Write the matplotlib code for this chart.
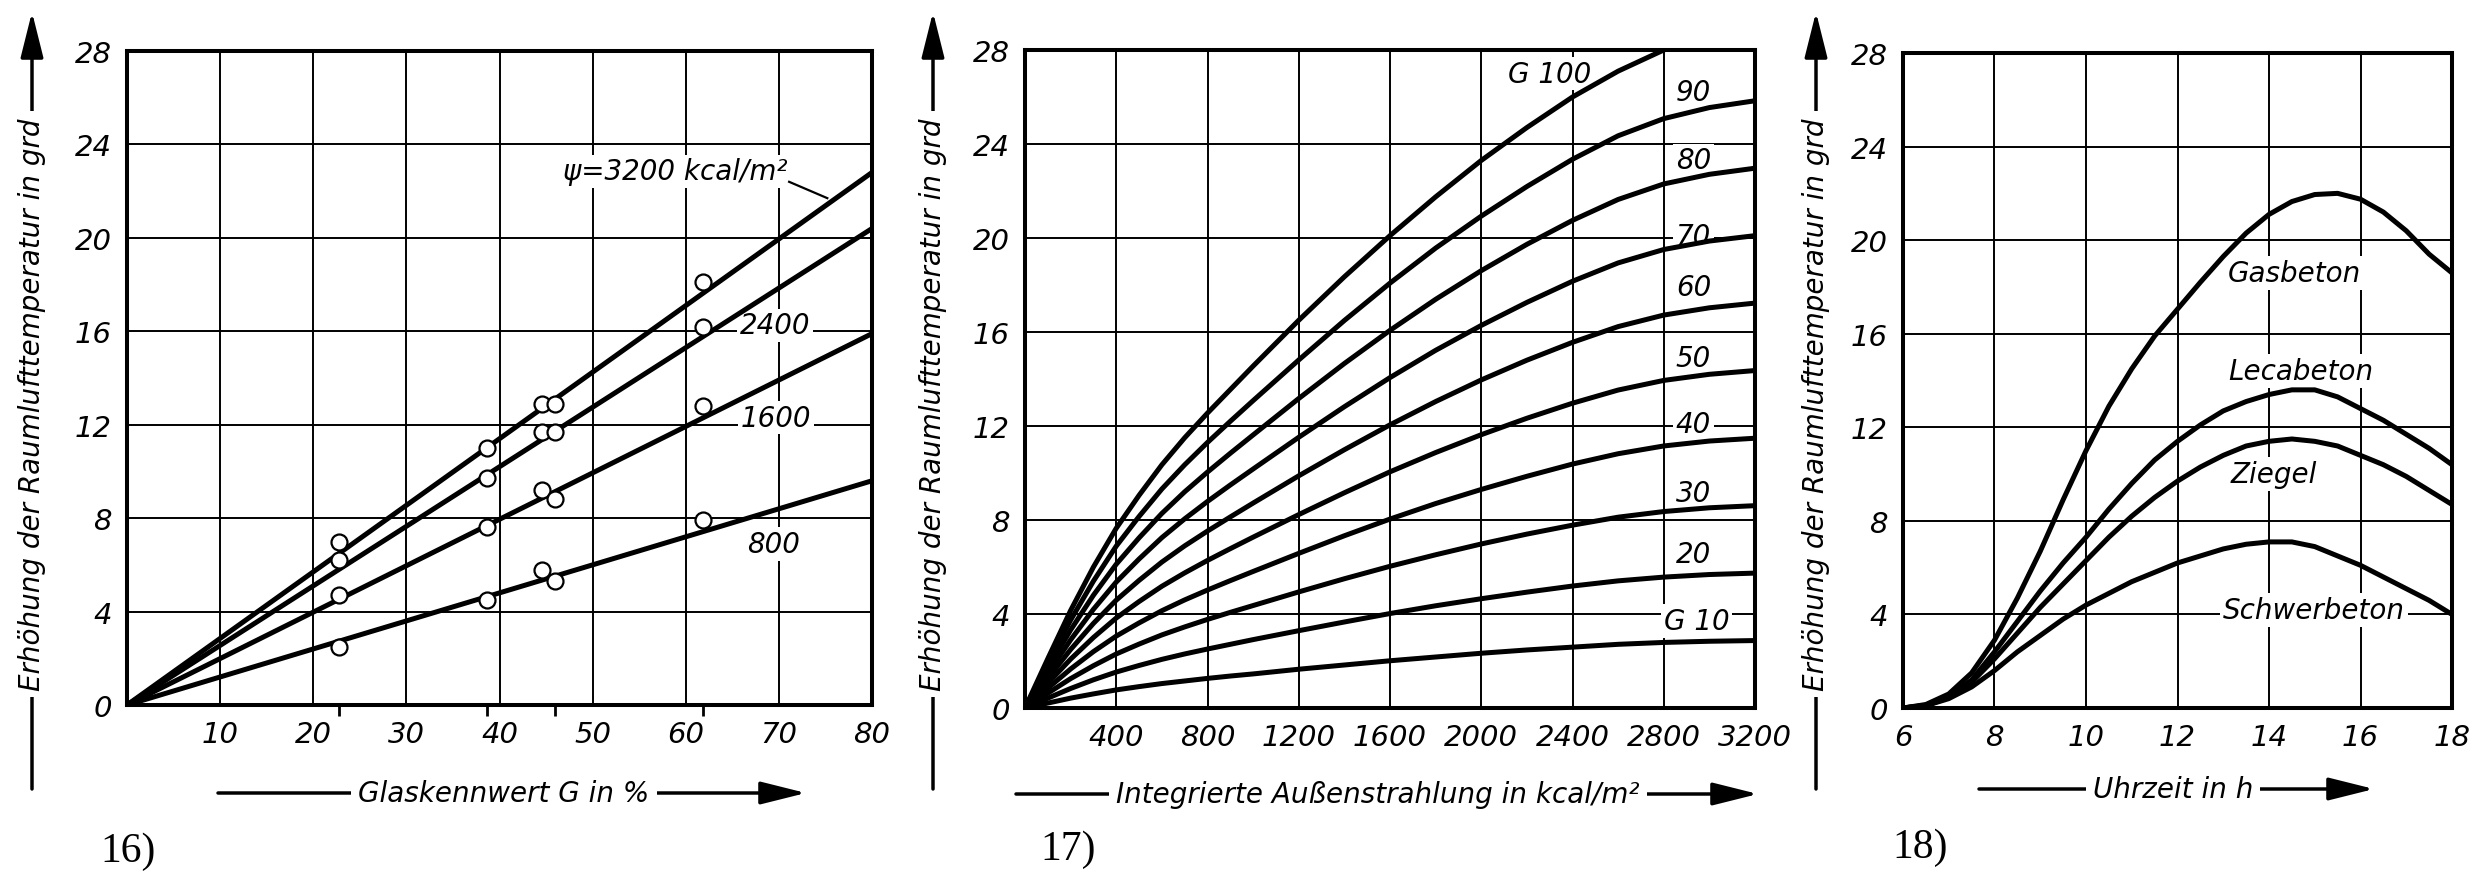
import matplotlib.pyplot as plt
from matplotlib.patches import FancyArrowPatch

B, H = 2481, 887

# Bild 16: Erhöhung der Raumlufttemperatur über dem Glaskennwert G
glas_x = [0, 80]
psi_3200 = [0, 22.8]
psi_2400 = [0, 20.4]
psi_1600 = [0, 15.9]
psi_800 = [0, 9.6]

mess_g = [22.8, 38.7, 44.6, 46.0, 61.9]
mess_3200 = [7.0, 11.0, 12.9, 12.9, 18.1]
mess_2400 = [6.2, 9.7, 11.7, 11.7, 16.2]
mess_1600 = [4.7, 7.6, 9.2, 8.8, 12.8]
mess_800 = [2.5, 4.5, 5.8, 5.3, 7.9]
mess_marken = [22.8, 38.7, 46.0, 61.9]

# Bild 17: über der integrierten Außenstrahlung, Kurven G 10 ... G 100
strahlung = [0, 100, 200, 300, 400, 500, 600, 700, 800, 900, 1000, 1200, 1400, 1600,
             1800, 2000, 2200, 2400, 2600, 2800, 3000, 3200]
g100 = [0, 2.1, 4.15, 6.0, 7.65, 9.05, 10.35, 11.5, 12.55, 13.55, 14.55, 16.5, 18.35, 20.1,
        21.75, 23.3, 24.7, 26.0, 27.1, 28.0, 28.6, 29.0]
g90 = [0, 1.89, 3.74, 5.4, 6.89, 8.15, 9.32, 10.35, 11.3, 12.2, 13.08, 14.81, 16.49, 18.08,
       19.57, 20.93, 22.19, 23.35, 24.35, 25.08, 25.55, 25.84]
g80 = [0, 1.68, 3.32, 4.8, 6.12, 7.24, 8.28, 9.2, 10.04, 10.84, 11.62, 13.17, 14.66, 16.07,
       17.39, 18.61, 19.73, 20.75, 21.64, 22.3, 22.71, 22.97]
g70 = [0, 1.47, 2.9, 4.2, 5.36, 6.34, 7.25, 8.05, 8.79, 9.49, 10.17, 11.52, 12.82, 14.06,
       15.22, 16.28, 17.26, 18.16, 18.94, 19.51, 19.87, 20.1]
g60 = [0, 1.26, 2.49, 3.6, 4.59, 5.43, 6.21, 6.9, 7.53, 8.13, 8.72, 9.88, 10.99, 12.05,
       13.04, 13.96, 14.8, 15.56, 16.23, 16.72, 17.03, 17.23]
g50 = [0, 1.05, 2.08, 3.0, 3.83, 4.53, 5.18, 5.75, 6.28, 6.78, 7.27, 8.23, 9.16, 10.05,
       10.87, 11.63, 12.33, 12.97, 13.53, 13.94, 14.2, 14.36]
g40 = [0, 0.84, 1.66, 2.4, 3.06, 3.62, 4.14, 4.6, 5.02, 5.42, 5.81, 6.58, 7.33, 8.04,
       8.7, 9.3, 9.86, 10.38, 10.82, 11.15, 11.36, 11.48]
g30 = [0, 0.63, 1.25, 1.8, 2.3, 2.72, 3.11, 3.45, 3.77, 4.07, 4.36, 4.94, 5.5, 6.03,
       6.52, 6.98, 7.4, 7.78, 8.12, 8.36, 8.52, 8.61]
g20 = [0, 0.42, 0.83, 1.2, 1.53, 1.81, 2.07, 2.3, 2.51, 2.71, 2.91, 3.29, 3.66, 4.02,
       4.35, 4.65, 4.93, 5.19, 5.41, 5.57, 5.68, 5.74]
g10 = [0, 0.21, 0.42, 0.6, 0.77, 0.91, 1.04, 1.15, 1.26, 1.36, 1.45, 1.65, 1.83, 2.01,
       2.17, 2.33, 2.47, 2.59, 2.71, 2.79, 2.84, 2.87]
g_kurven = [g100, g90, g80, g70, g60, g50, g40, g30, g20, g10]
g_namen = ['G 100', '90', '80', '70', '60', '50', '40', '30', '20', 'G 10']
g_text_y = [27.0, 26.2, 23.3, 20.1, 17.9, 14.9, 12.1, 9.15, 6.55, 3.7]

# Bild 18: Tagesgang für verschiedene Wandbaustoffe
uhrzeit = [6, 6.5, 7, 7.5, 8, 8.5, 9, 9.5, 10, 10.5, 11, 11.5, 12, 12.5,
           13, 13.5, 14, 14.5, 15, 15.5, 16, 16.5, 17, 17.5, 18]
gasbeton = [0, 0.15, 0.6, 1.5, 2.9, 4.7, 6.7, 8.9, 11.0, 12.9, 14.5, 15.9, 17.05, 18.2,
            19.3, 20.3, 21.1, 21.65, 21.95, 22.0, 21.75, 21.2, 20.4, 19.4, 18.6]
lecabeton = [0, 0.12, 0.5, 1.2, 2.4, 3.7, 5.0, 6.2, 7.3, 8.5, 9.6, 10.6, 11.4, 12.1,
             12.7, 13.1, 13.4, 13.6, 13.6, 13.3, 12.8, 12.3, 11.7, 11.1, 10.4]
ziegel = [0, 0.1, 0.45, 1.1, 2.1, 3.2, 4.3, 5.3, 6.3, 7.3, 8.2, 9.0, 9.7, 10.3,
          10.8, 11.2, 11.4, 11.5, 11.4, 11.2, 10.8, 10.4, 9.9, 9.3, 8.7]
schwerbeton = [0, 0.1, 0.4, 0.9, 1.6, 2.4, 3.1, 3.8, 4.4, 4.9, 5.4, 5.8, 6.2, 6.5,
               6.8, 7.0, 7.1, 7.1, 6.9, 6.5, 6.1, 5.6, 5.1, 4.6, 4.0]

plt.rcParams['font.family'] = 'DejaVu Sans'
plt.rcParams['font.style'] = 'italic'

fig = plt.figure(figsize=(B / 100, H / 100), dpi=100)
fig.patch.set_facecolor('white')

LW = 3.6
TXT = 20


def achse(links, oben, rechts, unten, xlim, xticks):
    ax = fig.add_axes([links / B, 1 - unten / H, (rechts - links) / B, (unten - oben) / H])
    ax.set_xlim(xlim)
    ax.set_ylim(0, 28)
    ax.set_xticks(xticks)
    ax.set_yticks(range(0, 29, 4))
    ax.grid(True, color='black', lw=1.4)
    ax.set_axisbelow(True)
    ax.tick_params(length=0, labelsize=21, pad=11)
    for s in ax.spines.values():
        s.set_linewidth(2.9)
        s.set_zorder(5)
    return ax


def pfeil(x0, y0, x1, y1):
    fig.add_artist(FancyArrowPatch((x0 / B, 1 - y0 / H), (x1 / B, 1 - y1 / H),
                                   transform=fig.transFigure,
                                   arrowstyle='-|>,head_length=1.4,head_width=0.35',
                                   mutation_scale=20, lw=2.5, color='black',
                                   shrinkA=0, shrinkB=0))


def beschriftung(text, x, y, rot=0):
    fig.text(x / B, 1 - y / H, text, rotation=rot, ha='center', va='center', fontsize=TXT,
             bbox=dict(facecolor='white', edgecolor='none', pad=5), zorder=6)


weiss = dict(facecolor='white', edgecolor='none', pad=2)
ylabel = 'Erhöhung der Raumlufttemperatur in grd'

# --- Bild 16
ax1 = achse(127, 52, 872, 706, (0, 80), range(10, 81, 10))
for werte in [psi_3200, psi_2400, psi_1600, psi_800]:
    ax1.plot(glas_x, werte, color='black', lw=LW, zorder=3, solid_capstyle='butt')
for werte in [mess_3200, mess_2400, mess_1600, mess_800]:
    ax1.plot(mess_g, werte, 'o', ms=11.5, mfc='white', mec='black', mew=1.6, zorder=4)
ax1.set_xticks(mess_marken, minor=True)
ax1.tick_params(which='minor', direction='out', length=8, width=2, labelbottom=False)
ax1.text(70.9, 22.85, 'ψ=3200 kcal/m²', ha='right', va='center', fontsize=TXT, zorder=2.5, bbox=weiss)
ax1.plot([71.1, 75.2], [22.4, 21.7], color='black', lw=1.6, zorder=3)
ax1.text(69.6, 16.25, '2400', ha='center', va='center', fontsize=TXT, zorder=2.5, bbox=weiss)
ax1.text(69.7, 12.3, '1600', ha='center', va='center', fontsize=TXT, zorder=2.5, bbox=weiss)
ax1.text(69.4, 6.9, '800', ha='center', va='center', fontsize=TXT, zorder=2.5, bbox=weiss)

# --- Bild 17
ax2 = achse(1025, 51, 1755, 709, (0, 3200), range(400, 3201, 400))
for werte in g_kurven:
    ax2.plot(strahlung, werte, color='black', lw=LW, zorder=3)
for name, y in zip(g_namen, g_text_y):
    x = 2300 if name == 'G 100' else (2944 if name == 'G 10' else 2930)
    ax2.text(x, y, name, ha='center', va='center', fontsize=TXT, zorder=2.5, bbox=weiss)

# --- Bild 18
ax3 = achse(1903, 54, 2452, 709, (6, 18), range(6, 19, 2))
for werte in [gasbeton, lecabeton, ziegel, schwerbeton]:
    ax3.plot(uhrzeit, werte, color='black', lw=LW, zorder=3)
ax3.text(13.1, 18.6, 'Gasbeton', ha='left', va='center', fontsize=TXT, zorder=2.5, bbox=weiss)
ax3.text(13.1, 14.4, 'Lecabeton', ha='left', va='center', fontsize=TXT, zorder=2.5, bbox=weiss)
ax3.text(13.15, 10.0, 'Ziegel', ha='left', va='center', fontsize=TXT, zorder=2.5, bbox=weiss)
ax3.text(13.0, 4.2, 'Schwerbeton', ha='left', va='center', fontsize=TXT, zorder=2.5, bbox=weiss)

# Achsbeschriftungen mit Pfeilen
for x in [32, 933, 1816]:
    pfeil(x, 790, x, 13)
    beschriftung(ylabel, x, 405, rot=90)

pfeil(218, 794, 806, 794)
beschriftung('Glaskennwert G in %', 504, 794)
pfeil(1016, 795, 1758, 795)
beschriftung('Integrierte Außenstrahlung in kcal/m²', 1378, 795)
pfeil(1979, 790, 2374, 790)
beschriftung('Uhrzeit in h', 2173, 790)

for nr, x, y in [('16)', 128, 852), ('17)', 1068, 850), ('18)', 1920, 848)]:
    fig.text(x / B, 1 - y / H, nr, ha='center', va='center', fontsize=30,
             family='Liberation Serif', style='normal')

plt.savefig('out.png', dpi=100, facecolor='white')
plt.close()
